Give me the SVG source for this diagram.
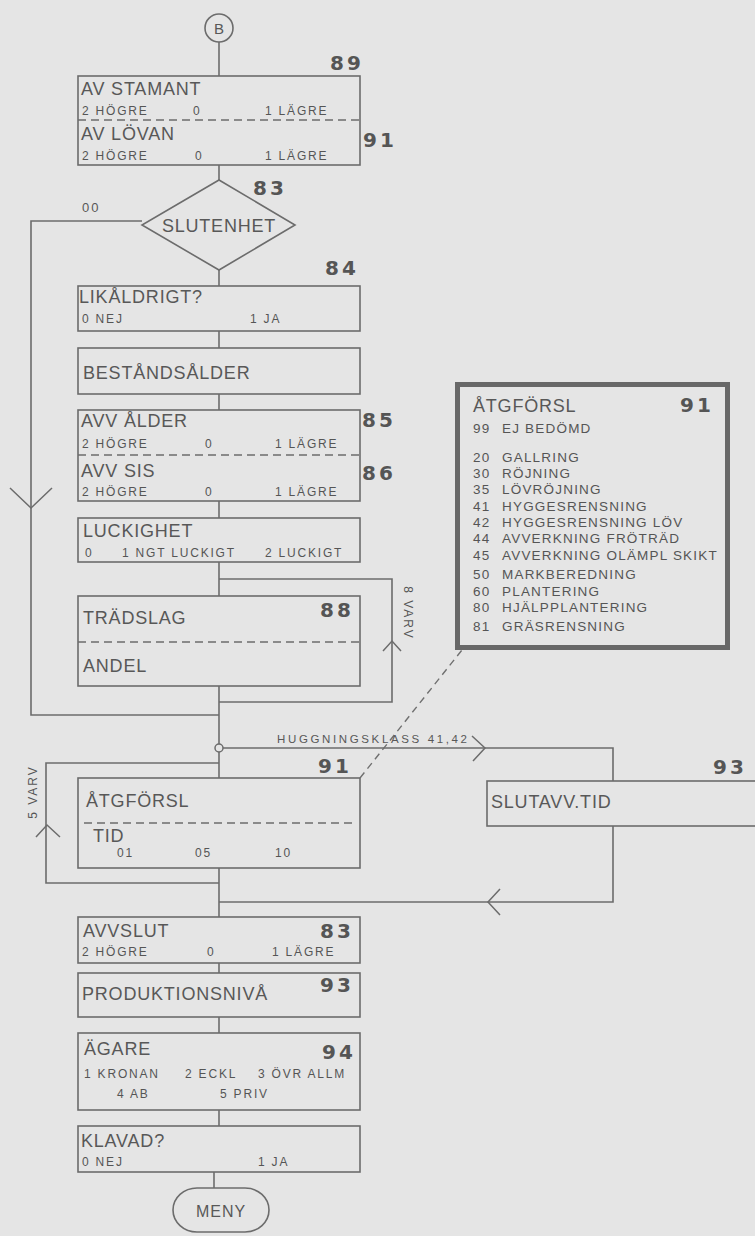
<svg xmlns="http://www.w3.org/2000/svg" width="755" height="1236" viewBox="0 0 755 1236">
<defs>
<style>
.bg{fill:#e5e5e5}
.box{fill:none;stroke:#6c6c6c;stroke-width:1.6}
.thick{fill:none;stroke:#686868;stroke-width:5}
.dash{fill:none;stroke:#6c6c6c;stroke-width:1.4;stroke-dasharray:8 5}
.ln{fill:none;stroke:#6c6c6c;stroke-width:1.6}
.dl{fill:none;stroke:#707070;stroke-width:1.4;stroke-dasharray:7 5}
.chev{fill:none;stroke:#6c6c6c;stroke-width:1.5}
text{font-family:"Liberation Sans",Arial,sans-serif;fill:#585858}
.h{font-size:18px;letter-spacing:0.8px}
.s{font-size:12px;letter-spacing:1.8px;fill:#555}
.n{font-family:"DejaVu Sans","Liberation Sans",sans-serif;font-size:20px;font-weight:bold;letter-spacing:3px;fill:#555}
.l{font-size:13.5px;letter-spacing:1.2px;fill:#555}
.v{font-size:12px;letter-spacing:2px;fill:#555}
.c{text-anchor:middle}
</style>
</defs>
<rect class="bg" x="0" y="0" width="755" height="1236"/>

<g id="connectors">
<line class="ln" x1="219" y1="42" x2="219" y2="76"/>
<line class="ln" x1="219" y1="165" x2="219" y2="180"/>
<line class="ln" x1="219" y1="270" x2="219" y2="286"/>
<line class="ln" x1="219" y1="331" x2="219" y2="348"/>
<line class="ln" x1="219" y1="394" x2="219" y2="410"/>
<line class="ln" x1="219" y1="501" x2="219" y2="518"/>
<line class="ln" x1="219" y1="562" x2="219" y2="596"/>
<polyline class="ln" points="142,221 31,221 31,715 219,715"/>
<polyline class="chev" points="10,488 31,508 52,488"/>
<polyline class="ln" points="219,579 392,579 392,702 219,702"/>
<polyline class="chev" points="383,651 392,641 401,651"/>
<line class="ln" x1="219" y1="686" x2="219" y2="778"/>
<polyline class="ln" points="223,748 613,748 613,781"/>
<polyline class="chev" points="472,736 485,748 473,761"/>
<polyline class="ln" points="613,826 613,902 219,902"/>
<polyline class="chev" points="500,889 488,902 500,915"/>
<polyline class="ln" points="219,763 46,763 46,883 219,883"/>
<polyline class="chev" points="36,837 47,825 60,837"/>
<line class="ln" x1="219" y1="868" x2="219" y2="917"/>
<line class="ln" x1="219" y1="963" x2="219" y2="973"/>
<line class="ln" x1="219" y1="1017" x2="219" y2="1033"/>
<line class="ln" x1="219" y1="1110" x2="219" y2="1126"/>
<line class="ln" x1="214" y1="1172" x2="214" y2="1188"/>
<line class="dl" x1="360" y1="778" x2="462" y2="650"/>
<text class="v" transform="translate(404,613) rotate(90)" text-anchor="middle">8 VARV</text>
<text class="v" transform="translate(37,792) rotate(-90)" text-anchor="middle">5 VARV</text>
<text x="277" y="743" font-size="11.5" fill="#555" textLength="190" lengthAdjust="spacing">HUGGNINGSKLASS 41,42</text>
<text x="82" y="212" font-size="13" letter-spacing="2">00</text>
</g>

<g id="n-B">
<circle class="box" cx="219" cy="28" r="14"/>
<text class="c" x="219" y="34" font-size="15">B</text>
</g>

<g id="n-89">
<rect class="box" x="78" y="76" width="282" height="89"/>
<line class="dash" x1="78" y1="120" x2="360" y2="120"/>
<text class="h" x="81" y="95">AV STAMANT</text>
<text class="s" x="82" y="115">2 HÖGRE</text><text class="s" x="193" y="115">0</text><text class="s" x="265" y="115">1 LÄGRE</text>
<text class="h" x="81" y="140">AV LÖVAN</text>
<text class="s" x="82" y="160">2 HÖGRE</text><text class="s" x="195" y="160">0</text><text class="s" x="265" y="160">1 LÄGRE</text>
<text class="n" x="330" y="70">89</text>
<text class="n" x="363" y="147">91</text>
</g>

<g id="n-83">
<polygon class="box" points="219,180 295,225 219,270 142,225"/>
<text class="h c" x="219" y="232">SLUTENHET</text>
<text class="n" x="253" y="195">83</text>
</g>

<g id="n-84">
<rect class="box" x="78" y="286" width="282" height="45"/>
<text class="h" x="79" y="303">LIKÅLDRIGT?</text>
<text class="s" x="82" y="323">0 NEJ</text><text class="s" x="250" y="323">1 JA</text>
<text class="n" x="325" y="275">84</text>
</g>

<g id="n-alder">
<rect class="box" x="78" y="348" width="282" height="46"/>
<text class="h" x="83" y="379">BESTÅNDSÅLDER</text>
</g>

<g id="n-85">
<rect class="box" x="78" y="410" width="282" height="91"/>
<line class="dash" x1="78" y1="455" x2="360" y2="455"/>
<text class="h" x="81" y="427">AVV ÅLDER</text>
<text class="s" x="82" y="448">2 HÖGRE</text><text class="s" x="205" y="448">0</text><text class="s" x="275" y="448">1 LÄGRE</text>
<text class="h" x="81" y="477">AVV SIS</text>
<text class="s" x="82" y="496">2 HÖGRE</text><text class="s" x="205" y="496">0</text><text class="s" x="275" y="496">1 LÄGRE</text>
<text class="n" x="362" y="427">85</text>
<text class="n" x="362" y="480">86</text>
</g>

<g id="n-luck">
<rect class="box" x="78" y="518" width="282" height="44"/>
<text class="h" x="83" y="537">LUCKIGHET</text>
<text class="s" x="85" y="557">0</text><text class="s" x="122" y="557">1 NGT LUCKIGT</text><text class="s" x="265" y="557">2 LUCKIGT</text>
</g>

<g id="n-88">
<rect class="box" x="78" y="596" width="282" height="90"/>
<line class="dash" x1="78" y1="642" x2="360" y2="642"/>
<text class="h" x="83" y="624">TRÄDSLAG</text>
<text class="h" x="83" y="672">ANDEL</text>
<text class="n" x="320" y="617">88</text>
</g>

<g id="n-junction">
<circle cx="219" cy="748" r="4" fill="#e5e5e5" stroke="#6c6c6c" stroke-width="1.5"/>
</g>

<g id="n-91">
<rect class="box" x="78" y="778" width="282" height="90"/>
<line class="dash" x1="84" y1="823" x2="352" y2="823"/>
<text class="h" x="86" y="807">ÅTGFÖRSL</text>
<text class="h" x="93" y="842">TID</text>
<text class="s" x="117" y="857">01</text><text class="s" x="195" y="857">05</text><text class="s" x="275" y="857">10</text>
<text class="n" x="318" y="773">91</text>
</g>

<g id="n-93a">
<rect class="box" x="487" y="781" width="280" height="45"/>
<text class="h" x="491" y="808">SLUTAVV.TID</text>
<text class="n" x="713" y="774">93</text>
</g>

<g id="n-info">
<rect class="thick" x="457.5" y="384.5" width="270" height="263"/>
<text class="h" x="473" y="412" letter-spacing="1.5">ÅTGFÖRSL</text>
<text class="n" x="680" y="412">91</text>
<text class="l" x="473" y="433">99</text><text class="l" x="502" y="433">EJ BEDÖMD</text>
<text class="l" x="473" y="462">20</text><text class="l" x="502" y="462">GALLRING</text>
<text class="l" x="473" y="478">30</text><text class="l" x="502" y="478">RÖJNING</text>
<text class="l" x="473" y="494">35</text><text class="l" x="502" y="494">LÖVRÖJNING</text>
<text class="l" x="473" y="511">41</text><text class="l" x="502" y="511">HYGGESRENSNING</text>
<text class="l" x="473" y="527">42</text><text class="l" x="502" y="527">HYGGESRENSNING LÖV</text>
<text class="l" x="473" y="543">44</text><text class="l" x="502" y="543">AVVERKNING FRÖTRÄD</text>
<text class="l" x="473" y="560">45</text><text class="l" x="502" y="560">AVVERKNING OLÄMPL SKIKT</text>
<text class="l" x="473" y="579">50</text><text class="l" x="502" y="579">MARKBEREDNING</text>
<text class="l" x="473" y="596">60</text><text class="l" x="502" y="596">PLANTERING</text>
<text class="l" x="473" y="612">80</text><text class="l" x="502" y="612">HJÄLPPLANTERING</text>
<text class="l" x="473" y="631">81</text><text class="l" x="502" y="631">GRÄSRENSNING</text>
</g>

<g id="n-83b">
<rect class="box" x="78" y="917" width="282" height="46"/>
<text class="h" x="83" y="937">AVVSLUT</text>
<text class="s" x="82" y="956">2 HÖGRE</text><text class="s" x="207" y="956">0</text><text class="s" x="272" y="956">1 LÄGRE</text>
<text class="n" x="320" y="938">83</text>
</g>

<g id="n-93b">
<rect class="box" x="78" y="973" width="282" height="44"/>
<text class="h" x="82" y="1000">PRODUKTIONSNIVÅ</text>
<text class="n" x="320" y="992">93</text>
</g>

<g id="n-94">
<rect class="box" x="78" y="1033" width="282" height="77"/>
<text class="h" x="84" y="1055">ÄGARE</text>
<text class="s" x="84" y="1078">1 KRONAN</text><text class="s" x="185" y="1078">2 ECKL</text><text class="s" x="258" y="1078">3 ÖVR ALLM</text>
<text class="s" x="117" y="1098">4 AB</text><text class="s" x="220" y="1098">5 PRIV</text>
<text class="n" x="322" y="1059">94</text>
</g>

<g id="n-klav">
<rect class="box" x="78" y="1126" width="282" height="46"/>
<text class="h" x="81" y="1147">KLAVAD?</text>
<text class="s" x="82" y="1166">0 NEJ</text><text class="s" x="258" y="1166">1 JA</text>
</g>

<g id="n-meny">
<rect class="box" x="173" y="1188" width="96" height="44" rx="24" ry="22"/>
<text class="c" x="221" y="1217" font-size="16" letter-spacing="1">MENY</text>
</g>
</svg>
